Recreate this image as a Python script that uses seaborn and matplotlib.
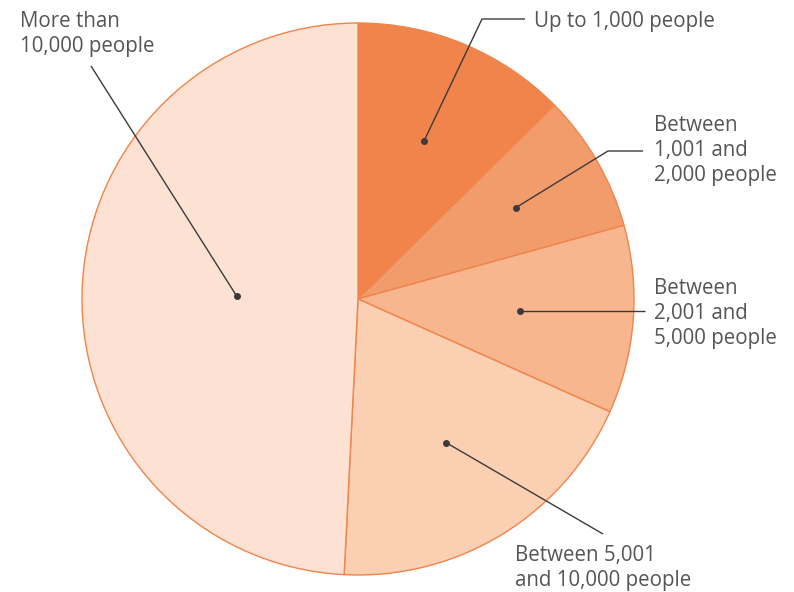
import numpy as np
import matplotlib
matplotlib.use("Agg")
import matplotlib.pyplot as plt
import seaborn as sns

# Share of population by settlement size (%)
categories = [
    "Up to 1,000 people",
    "Between\n1,001 and\n2,000 people",
    "Between\n2,001 and\n5,000 people",
    "Between 5,001\nand 10,000 people",
    "More than\n10,000 people",
]
shares = [12.6, 8.1, 11.0, 19.1, 49.2]
colors = ["#F0844A", "#F39C6B", "#F7B68E", "#FBCFB2", "#FDE1D3"]

sns.set_theme(style="white")
plt.rcParams["font.family"] = ["Open Sans", "DejaVu Sans"]

W, H = 794, 592
fig = plt.figure(figsize=(W / 100, H / 100), dpi=100)
ax = fig.add_axes([0, 0, 1, 1])

cx, cy, R = 358, H - 299, 276
wedges, _ = ax.pie(
    shares, colors=colors, startangle=90, counterclock=False,
    center=(cx, cy), radius=R,
    wedgeprops=dict(edgecolor="#F0844A", linewidth=1.0),
)
ax.set_xlim(0, W)
ax.set_ylim(0, H)
ax.set_aspect("equal")
ax.axis("off")

# Leader geometry per label (pixel coords, y measured from top):
# radial fraction of the anchor dot, bend points, text anchor (x, last baseline)
leaders = [
    (0.62, [(482, 19), (525, 19)], (534, 27)),
    (0.66, [(608, 151), (643, 151)], (654, 181)),
    (0.59, [(645, None)], (654, 344)),
    (0.61, [(603, 534)], (515, 586)),
    (0.44, [(91, 66)], (20, 52)),
]

line_col = "#3b3b3b"
text_col = "#555555"
for w, label, (frac, bends, (tx, ty)) in zip(wedges, categories, leaders):
    mid = np.deg2rad((w.theta1 + w.theta2) / 2)
    dx = cx + frac * R * np.cos(mid)
    dy = cy + frac * R * np.sin(mid)
    xs, ys = [dx], [dy]
    for bx, by in bends:
        xs.append(bx)
        ys.append(dy if by is None else H - by)
    ax.plot(xs, ys, color=line_col, lw=1.0, solid_capstyle="butt", zorder=3)
    ax.plot([dx], [dy], "o", color=line_col, markersize=4, zorder=4)
    ax.text(tx, H - ty, label, ha="left", va="baseline", fontsize=14.8,
            color=text_col, linespacing=1.26)

fig.savefig("out.png", dpi=100)
